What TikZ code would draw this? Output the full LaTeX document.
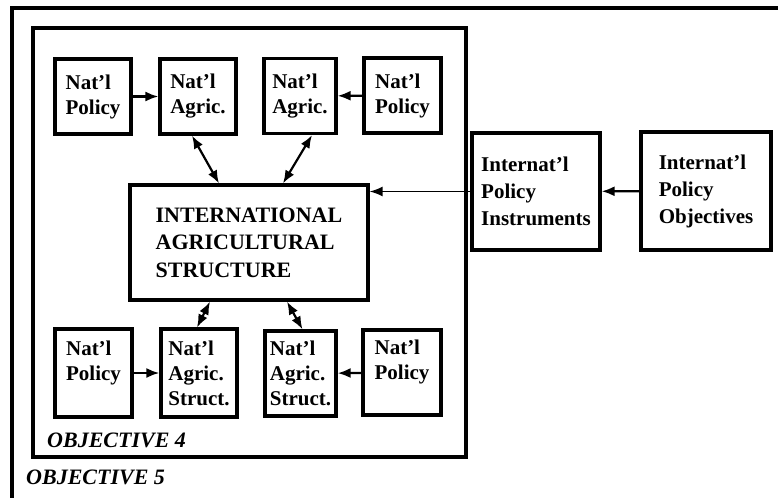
\documentclass[tikz,border=0pt]{standalone}
\usepackage{fontspec}
\setmainfont{Liberation Serif}
\usetikzlibrary{arrows.meta}

\tikzset{
  box/.style={draw, line width=3.2pt, inner sep=0pt, align=left,
    minimum width=76pt, font=\bfseries\fontsize{21}{25}\selectfont},
  link/.style={line width=2.2pt, -{Latex[length=13pt,width=10pt]}},
  both/.style={line width=2.2pt, {Latex[length=13pt,width=10pt]}-{Latex[length=13pt,width=10pt]}},
  tag/.style={anchor=west, inner sep=0pt, font=\bfseries\itshape\fontsize{22}{26}\selectfont},
}

\begin{document}
\begin{tikzpicture}[x=1pt,y=-1pt]
  \useasboundingbox (0,0) rectangle (778,498);

  % the two objective frames
  \draw[line width=3.2pt] (778,8) -- (12,8) -- (12,498);
  \draw[line width=3.2pt] (33,28) rectangle (466,457);

  % national boxes, top row
  \node[box, minimum height=75pt] (P1) at (93,96.5) {Nat'l\\Policy};
  \node[box, minimum height=75pt] (A1) at (198,96.5) {Nat'l\\Agric.};
  \node[box, minimum height=75pt, minimum width=72pt] (A2) at (300,96) {Nat'l\\Agric.};
  \node[box, minimum height=75pt, minimum width=77pt] (P2) at (402.5,95.5) {Nat'l\\Policy};
  \draw[link] (P1) -- (A1);
  \draw[link] (P2) -- (A2);

  \node[box, minimum width=238pt, minimum height=115pt,
        font=\bfseries\fontsize{22}{27.5}\selectfont] (S) at (249,242.5)
        {INTERNATIONAL\\AGRICULTURAL\\STRUCTURE};

  % national boxes, bottom row
  \node[box, minimum width=77pt, minimum height=88pt] (Q1) at (93.5,373) {Nat'l\\Policy\\\mbox{}};
  \node[box, minimum height=88pt] (B1) at (199,373) {Nat'l\\Agric.\\Struct.};
  \node[box, minimum width=71pt, minimum height=85pt] (B2) at (300.5,373.5) {Nat'l\\Agric.\\Struct.};
  \node[box, minimum width=78pt, minimum height=85pt] (Q2) at (402,372.5) {Nat'l\\Policy\\\mbox{}};
  \draw[link] (Q1) -- (B1);
  \draw[link] (Q2) -- (B2);

  \draw[both] ([xshift=-6pt]A1.south) -- ([xshift=-30pt]S.north);
  \draw[both] ([xshift=12pt]A2.south) -- ([xshift=34pt]S.north);
  \draw[both] ([xshift=-39pt]S.south) -- ([xshift=-2pt]B1.north);
  \draw[both] ([xshift=38pt]S.south) -- ([xshift=2pt]B2.north);

  % international policy
  \node[box, minimum width=128pt, minimum height=117pt,
        font=\bfseries\fontsize{21}{27}\selectfont] (I1) at (536,191.5)
        {Internat'l\\Policy\\Instruments};
  \node[box, minimum width=130pt, minimum height=118pt,
        font=\bfseries\fontsize{21}{27}\selectfont] (I2) at (706,191)
        {Internat'l\\Policy\\Objectives};
  \draw[link] (I2) -- (I1);
  \draw[link, line width=1.6pt] (I1.west) -- (I1.west -| S.east);

  \node[tag] (obj4) at (47,440) {OBJECTIVE 4};
  \node[tag] (obj5) at (26,477) {OBJECTIVE 5};
\end{tikzpicture}
\end{document}
